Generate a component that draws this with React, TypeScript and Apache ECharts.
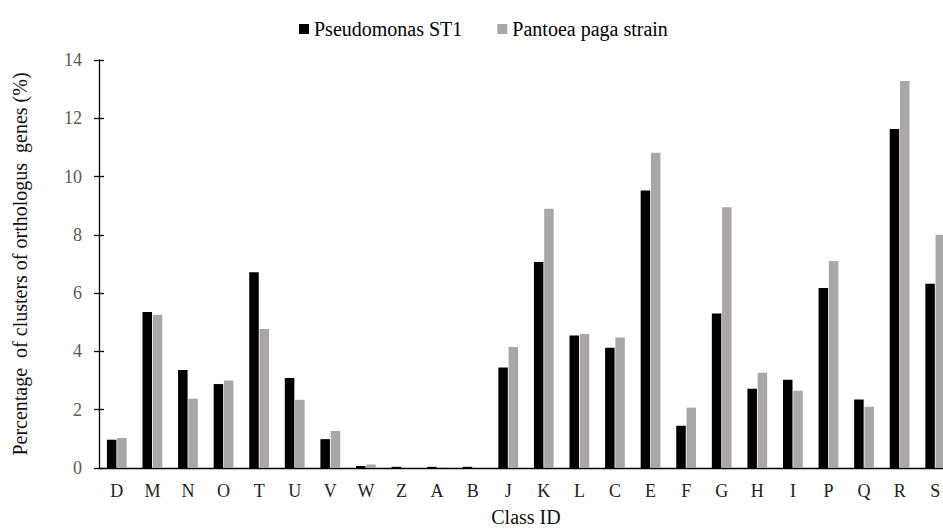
import React, { useEffect, useRef } from "react";
import * as echarts from "echarts";

const categories = ["D","M","N","O","T","U","V","W","Z","A","B","J","K","L","C","E","F","G","H","I","P","Q","R","S"];
const pseudomonas = [0.97,5.35,3.36,2.88,6.72,3.09,0.99,0.07,0.04,0.04,0.04,3.45,7.07,4.55,4.13,9.52,1.45,5.3,2.72,3.03,6.18,2.35,11.63,6.32];
const pantoea = [1.03,5.26,2.38,3.0,4.77,2.34,1.27,0.12,0,0.02,0,4.15,8.9,4.6,4.48,10.82,2.07,8.95,3.27,2.65,7.1,2.1,13.28,8.0];
const yTicks = { min: 0, max: 14, interval: 2 };

export default function App() {
  const ref = useRef<HTMLDivElement>(null);
  useEffect(() => {
    const chart = echarts.init(ref.current!, null, { renderer: "svg" });
    const font = "Liberation Serif";
    chart.setOption({
      animation: false,
      textStyle: { fontFamily: font },
      legend: {
        top: 14,
        left: 294,
        itemWidth: 10,
        itemHeight: 10,
        itemGap: 35,
        icon: "rect",
        textStyle: { fontFamily: font, fontSize: 20, color: "#000" },
        data: ["Pseudomonas ST1", "Pantoea paga strain"],
      },
      grid: { left: 99, top: 60, right: -10, bottom: 62, containLabel: false, outerBoundsMode: "none" },
      xAxis: {
        type: "category",
        data: categories,
        axisLine: { lineStyle: { color: "#000", width: 1.3 } },
        axisTick: { show: false },
        axisLabel: { fontFamily: font, fontSize: 18, color: "#222", margin: 14 },
        name: "Class ID",
        nameLocation: "middle",
        nameGap: 39,
        nameTextStyle: { fontFamily: font, fontSize: 20, color: "#111" },
      },
      yAxis: [
        {
          type: "value",
          min: yTicks.min,
          max: yTicks.max,
          interval: yTicks.interval,
          splitLine: { show: false },
          axisLine: { show: true, lineStyle: { color: "#000", width: 1.3 } },
          axisTick: { show: true, length: 5, lineStyle: { color: "#000", width: 1.3 } },
          axisLabel: { fontFamily: font, fontSize: 18, color: "#595959", margin: 17 },
          name: "Percentage  of clusters of orthologus  genes (%)",
          nameLocation: "middle",
          nameGap: 69,
          nameTextStyle: { fontFamily: font, fontSize: 20, color: "#111" },
        },
        {
          type: "value",
          position: "left",
          min: yTicks.min,
          max: yTicks.max,
          interval: yTicks.interval,
          splitLine: { show: false },
          axisLine: { show: false },
          axisTick: { show: true, inside: true, length: 5, lineStyle: { color: "#000", width: 1.3 } },
          axisLabel: { show: false },
        },
      ],
      series: [
        {
          name: "Pseudomonas ST1",
          type: "bar",
          data: pseudomonas,
          barWidth: 9.5,
          barGap: "8%",
          itemStyle: { color: "#000" },
        },
        {
          name: "Pantoea paga strain",
          type: "bar",
          data: pantoea,
          barWidth: 9.5,
          itemStyle: { color: "#a9a6a5" },
        },
      ],
    });
    return () => chart.dispose();
  }, []);
  return (
    <div
      ref={ref}
      style={{ position: "fixed", left: 0, top: 0, width: 943, height: 530, overflow: "hidden", background: "#fff" }}
    />
  );
}
